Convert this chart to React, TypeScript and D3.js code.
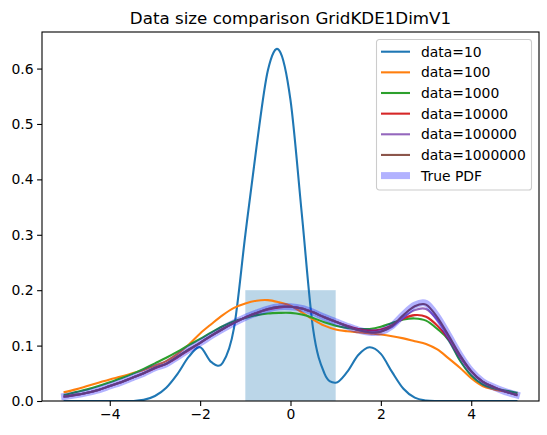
import React, { useEffect, useRef } from "react";
import * as d3 from "d3";

// sample grid on the x axis
const xs = [
  -5, -4.75, -4.5, -4.25, -4, -3.75, -3.5, -3.25, -3, -2.75, -2.5, -2.25, -2,
  -1.75, -1.5, -1.25, -1, -0.75, -0.5, -0.25, 0, 0.25, 0.5, 0.75, 1, 1.25, 1.5,
  1.75, 2, 2.25, 2.5, 2.75, 3, 3.25, 3.5, 3.75, 4, 4.25, 4.5, 4.75, 5,
];

const data10 = [
  0, 0, 0, 0, 0, 0, 0, 0.002, 0.009, 0.024, 0.049, 0.08, 0.097, 0.07, 0.069,
  0.132, 0.3, 0.46, 0.597, 0.633, 0.543, 0.338, 0.13, 0.05, 0.033, 0.052, 0.083,
  0.097, 0.085, 0.052, 0.022, 0.006, 0.001, 0, 0, 0, 0, 0, 0, 0, 0,
];
const data100 = [
  0.016, 0.021, 0.027, 0.033, 0.039, 0.044, 0.05, 0.056, 0.064, 0.072, 0.085,
  0.102, 0.122, 0.139, 0.155, 0.168, 0.176, 0.181, 0.182, 0.178, 0.172, 0.16,
  0.147, 0.136, 0.129, 0.126, 0.124, 0.122, 0.12, 0.117, 0.113, 0.108, 0.103,
  0.093, 0.077, 0.06, 0.041, 0.027, 0.021, 0.017, 0.014,
];
const data1000 = [
  0.011, 0.016, 0.021, 0.027, 0.034, 0.041, 0.049, 0.058, 0.068, 0.078, 0.089,
  0.101, 0.112, 0.124, 0.135, 0.144, 0.15, 0.155, 0.158, 0.159, 0.159, 0.156,
  0.15, 0.142, 0.136, 0.132, 0.13, 0.13, 0.134, 0.141, 0.147, 0.149, 0.145,
  0.13, 0.11, 0.073, 0.046, 0.03, 0.023, 0.019, 0.015,
];
const data10000 = [
  0.008, 0.011, 0.015, 0.02, 0.027, 0.034, 0.042, 0.05, 0.059, 0.067, 0.079,
  0.092, 0.105, 0.118, 0.13, 0.141, 0.151, 0.159, 0.165, 0.169, 0.17, 0.167,
  0.16, 0.151, 0.143, 0.136, 0.13, 0.127, 0.129, 0.137, 0.149, 0.155, 0.152,
  0.136, 0.112, 0.08, 0.053, 0.035, 0.025, 0.017, 0.011,
];
const data100000 = [
  0.008, 0.011, 0.015, 0.02, 0.027, 0.034, 0.042, 0.05, 0.06, 0.067, 0.08,
  0.093, 0.105, 0.118, 0.13, 0.141, 0.151, 0.159, 0.166, 0.17, 0.17, 0.167,
  0.16, 0.151, 0.143, 0.135, 0.128, 0.124, 0.126, 0.134, 0.151, 0.164, 0.166,
  0.146, 0.115, 0.082, 0.054, 0.035, 0.025, 0.017, 0.011,
];
const data1000000 = [
  0.008, 0.011, 0.015, 0.02, 0.027, 0.034, 0.042, 0.05, 0.06, 0.067, 0.08,
  0.093, 0.105, 0.118, 0.13, 0.141, 0.151, 0.159, 0.166, 0.17, 0.17, 0.167,
  0.16, 0.151, 0.143, 0.135, 0.128, 0.124, 0.125, 0.136, 0.155, 0.171, 0.174,
  0.151, 0.118, 0.083, 0.054, 0.035, 0.025, 0.017, 0.011,
];
const truePdf = [
  0.008, 0.011, 0.015, 0.02, 0.027, 0.034, 0.042, 0.05, 0.06, 0.067, 0.08,
  0.093, 0.105, 0.118, 0.13, 0.141, 0.151, 0.159, 0.166, 0.17, 0.17, 0.167,
  0.16, 0.151, 0.143, 0.135, 0.128, 0.124, 0.125, 0.136, 0.156, 0.173, 0.176,
  0.152, 0.118, 0.083, 0.054, 0.035, 0.025, 0.017, 0.011,
];

// the shaded block
const blockRange = [-1, 1];
const blockHeight = 0.2;

const seriesLabels = [
  "data=10",
  "data=100",
  "data=1000",
  "data=10000",
  "data=100000",
  "data=1000000",
];
const seriesValues = [data10, data100, data1000, data10000, data100000, data1000000];
const colors = ["#1f77b4", "#ff7f0e", "#2ca02c", "#d62728", "#9467bd", "#8c564b"];

const xTicks = [-4, -2, 0, 2, 4];
const yTicks = [0, 0.1, 0.2, 0.3, 0.4, 0.5, 0.6];

const App = () => {
  const ref = useRef<SVGSVGElement>(null);

  useEffect(() => {
    const width = 547;
    const height = 435;
    const margin = { top: 32, right: 8, bottom: 34, left: 42 };
    const font = "DejaVu Sans, sans-serif";

    const svg = d3.select(ref.current);
    svg.selectAll("*").remove();

    const x = d3
      .scaleLinear()
      .domain([-5.5, 5.5])
      .range([margin.left, width - margin.right]);
    const y = d3
      .scaleLinear()
      .domain([0, 0.666])
      .range([height - margin.bottom, margin.top]);

    // shaded block
    svg
      .append("rect")
      .attr("x", x(blockRange[0]))
      .attr("y", y(blockHeight))
      .attr("width", x(blockRange[1]) - x(blockRange[0]))
      .attr("height", y(0) - y(blockHeight))
      .attr("fill", "#1f77b4")
      .attr("fill-opacity", 0.3);

    const line = (vals: number[]) =>
      d3
        .line<number>()
        .x((d, i) => x(xs[i]))
        .y((d) => y(d))
        .curve(d3.curveCatmullRom.alpha(0))(vals);

    svg
      .append("clipPath")
      .attr("id", "plotclip")
      .append("rect")
      .attr("x", margin.left)
      .attr("y", margin.top)
      .attr("width", width - margin.left - margin.right)
      .attr("height", height - margin.top - margin.bottom);

    const plot = svg.append("g").attr("clip-path", "url(#plotclip)");

    seriesValues.forEach((vals, k) => {
      plot
        .append("path")
        .attr("d", line(vals))
        .attr("fill", "none")
        .attr("stroke", colors[k])
        .attr("stroke-width", 2.1)
        .attr("stroke-linejoin", "round")
        .attr("stroke-linecap", "square");
    });

    plot
      .append("path")
      .attr("d", line(truePdf))
      .attr("fill", "none")
      .attr("stroke", "#0000ff")
      .attr("stroke-opacity", 0.3)
      .attr("stroke-width", 7)
      .attr("stroke-linejoin", "round")
      .attr("stroke-linecap", "square");

    // axes
    const gx = svg
      .append("g")
      .attr("transform", `translate(0,${height - margin.bottom})`)
      .call(
        d3
          .axisBottom(x)
          .tickValues(xTicks)
          .tickSize(4.9)
          .tickPadding(3.5)
          .tickFormat((d) => String(d).replace("-", "\u2212"))
      );
    const gy = svg
      .append("g")
      .attr("transform", `translate(${margin.left},0)`)
      .call(
        d3
          .axisLeft(y)
          .tickValues(yTicks)
          .tickSize(4.9)
          .tickPadding(3.5)
          .tickFormat(d3.format(".1f"))
      );
    [gx, gy].forEach((g) => {
      g.select(".domain").remove();
      g.selectAll("line").attr("stroke", "#000").attr("stroke-width", 1.1);
      g.selectAll("text")
        .attr("fill", "#000")
        .style("font-family", font)
        .style("font-size", "13.9px");
    });

    // frame
    svg
      .append("rect")
      .attr("x", margin.left)
      .attr("y", margin.top)
      .attr("width", width - margin.left - margin.right)
      .attr("height", height - margin.top - margin.bottom)
      .attr("fill", "none")
      .attr("stroke", "#000")
      .attr("stroke-width", 1.1);

    // title
    svg
      .append("text")
      .attr("x", (margin.left + width - margin.right) / 2)
      .attr("y", margin.top - 8.5)
      .attr("text-anchor", "middle")
      .style("font-family", font)
      .style("font-size", "16.7px")
      .text("Data size comparison GridKDE1DimV1");

    // legend
    const legend = svg.append("g").attr("transform", "translate(376.5,39.5)");
    legend
      .append("rect")
      .attr("width", 155)
      .attr("height", 150.5)
      .attr("rx", 2.8)
      .attr("fill", "#fff")
      .attr("fill-opacity", 0.8)
      .attr("stroke", "#cccccc")
      .attr("stroke-width", 1.1);

    const entries = seriesLabels
      .map((label, k) => ({ label, color: colors[k], width: 2.1, opacity: 1 }))
      .concat([{ label: "True PDF", color: "#0000ff", width: 7, opacity: 0.3 }]);

    entries.forEach((e, k) => {
      const cy = 12.2 + k * 20.65;
      legend
        .append("line")
        .attr("x1", 4.5)
        .attr("x2", 33.5)
        .attr("y1", cy)
        .attr("y2", cy)
        .attr("stroke", e.color)
        .attr("stroke-opacity", e.opacity)
        .attr("stroke-width", e.width);
      legend
        .append("text")
        .attr("x", 44.5)
        .attr("y", cy)
        .attr("dy", "0.36em")
        .style("font-family", font)
        .style("font-size", "13.9px")
        .text(e.label);
    });
  }, []);

  return (
    <svg
      ref={ref}
      width={547}
      height={435}
      style={{ position: "absolute", left: 0, top: 0, background: "#fff" }}
    />
  );
};

export default App;
